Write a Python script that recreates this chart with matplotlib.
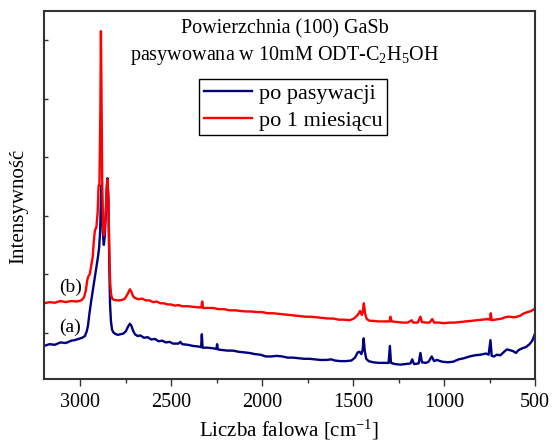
import numpy as np
import matplotlib
matplotlib.use("Agg")
import matplotlib.pyplot as plt
from matplotlib.ticker import MultipleLocator, NullFormatter

# ===== dane =====
wn_a = [3200, 3170, 3140, 3110, 3080, 3050, 3030, 3010, 2990, 2975, 2965, 2958,
        2950, 2940, 2930, 2920, 2911, 2903, 2897, 2891, 2887, 2884, 2880, 2875,
        2871, 2866, 2860, 2855, 2851, 2846, 2841, 2837, 2832, 2826, 2818, 2810,
        2795, 2780, 2765, 2750, 2738, 2728, 2720, 2710, 2700, 2685, 2670, 2650,
        2630, 2610, 2590, 2570, 2550, 2530, 2510, 2490, 2460, 2450, 2440, 2410,
        2380, 2350, 2336, 2332, 2328, 2300, 2270, 2252, 2248, 2244, 2220, 2190,
        2160, 2130, 2100, 2070, 2040, 2010, 1980, 1950, 1920, 1890, 1860, 1830,
        1800, 1770, 1740, 1710, 1680, 1650, 1620, 1600, 1570, 1540, 1510, 1490,
        1475, 1465, 1455, 1448, 1442, 1436, 1428, 1415, 1390, 1360, 1330, 1305,
        1298, 1292, 1270, 1240, 1210, 1185, 1175, 1165, 1140, 1130, 1122, 1100,
        1085, 1068, 1055, 1040, 1010, 980, 950, 920, 890, 860, 830, 800, 770,
        755, 745, 738, 725, 710, 690, 670, 655, 640, 620, 605, 590, 570, 550,
        530, 515, 500]
int_a = [-0.23, -0.20, -0.21, -0.17, -0.18, -0.14, -0.13, -0.11, -0.09, -0.06, 0.02, 0.12,
         0.33, 0.55, 0.75, 0.95, 1.13, 1.30, 1.45, 1.75, 2.30, 2.52, 2.10, 1.65,
         1.50, 1.65, 2.05, 2.45, 2.64, 2.30, 1.20, 0.50, 0.20, 0.05, 0.00, -0.02,
         -0.04, -0.03, -0.02, 0.02, 0.10, 0.15, 0.12, 0.03, -0.03, -0.06, -0.05, -0.09,
         -0.08, -0.12, -0.11, -0.15, -0.14, -0.17, -0.16, -0.19, -0.19, -0.16, -0.20, -0.21,
         -0.23, -0.24, -0.25, -0.03, -0.26, -0.26, -0.27, -0.28, -0.20, -0.29, -0.30, -0.31,
         -0.31, -0.33, -0.34, -0.35, -0.37, -0.38, -0.41, -0.41, -0.40, -0.41, -0.43, -0.43,
         -0.44, -0.45, -0.45, -0.46, -0.47, -0.47, -0.46, -0.48, -0.49, -0.49, -0.48, -0.43,
         -0.34, -0.33, -0.37, -0.30, -0.10, -0.32, -0.45, -0.49, -0.51, -0.52, -0.52, -0.52,
         -0.23, -0.52, -0.54, -0.55, -0.54, -0.53, -0.46, -0.54, -0.53, -0.35, -0.51, -0.52,
         -0.50, -0.41, -0.49, -0.47, -0.50, -0.51, -0.50, -0.46, -0.44, -0.41, -0.39, -0.38, -0.36,
         -0.38, -0.13, -0.40, -0.41, -0.38, -0.39, -0.33, -0.29, -0.30, -0.32, -0.35, -0.30, -0.27, -0.25,
         -0.20, -0.14, -0.02]

wn_b = [3200, 3170, 3140, 3110, 3080, 3050, 3020, 2995, 2980, 2970, 2962, 2955,
        2948, 2940, 2932, 2925, 2920, 2912, 2905, 2900, 2895, 2890, 2887, 2884,
        2880, 2875, 2870, 2865, 2860, 2855, 2851, 2846, 2841, 2836, 2831, 2825,
        2815, 2800, 2785, 2770, 2755, 2740, 2728, 2720, 2710, 2700, 2680, 2660,
        2640, 2620, 2600, 2580, 2560, 2540, 2520, 2500, 2480, 2460, 2440, 2410,
        2380, 2350, 2335, 2330, 2325, 2300, 2270, 2240, 2210, 2180, 2150, 2120,
        2090, 2060, 2030, 2000, 1970, 1940, 1910, 1880, 1850, 1820, 1790, 1760,
        1730, 1700, 1670, 1640, 1610, 1580, 1550, 1520, 1495, 1475, 1462, 1452,
        1447, 1441, 1435, 1425, 1410, 1390, 1360, 1330, 1300, 1295, 1288, 1260,
        1230, 1200, 1178, 1170, 1145, 1130, 1122, 1100, 1080, 1065, 1055, 1030,
        1000, 970, 940, 910, 880, 850, 820, 790, 760, 748, 743, 738, 720, 700,
        680, 665, 650, 635, 620, 600, 580, 560, 540, 520, 500]
int_b = [0.50, 0.52, 0.51, 0.54, 0.52, 0.54, 0.53, 0.55, 0.60, 0.72, 0.90, 0.97,
         1.00, 1.15, 1.30, 1.60, 1.75, 1.80, 2.05, 2.50, 2.55, 3.80, 5.16, 4.20,
         2.60, 1.80, 1.66, 1.80, 2.10, 2.50, 2.62, 2.30, 1.40, 0.85, 0.65, 0.58,
         0.56, 0.55, 0.55, 0.56, 0.58, 0.66, 0.74, 0.70, 0.62, 0.59, 0.57, 0.58,
         0.55, 0.55, 0.52, 0.53, 0.50, 0.50, 0.48, 0.48, 0.46, 0.47, 0.45, 0.45,
         0.44, 0.43, 0.43, 0.53, 0.42, 0.42, 0.42, 0.40, 0.40, 0.38, 0.38, 0.37,
         0.36, 0.36, 0.35, 0.35, 0.33, 0.33, 0.32, 0.31, 0.30, 0.29, 0.28, 0.27,
         0.27, 0.26, 0.25, 0.24, 0.24, 0.22, 0.22, 0.21, 0.24, 0.30, 0.37, 0.30,
         0.36, 0.50, 0.33, 0.23, 0.20, 0.20, 0.19, 0.19, 0.19, 0.27, 0.19, 0.18,
         0.17, 0.17, 0.21, 0.17, 0.17, 0.27, 0.18, 0.17, 0.17, 0.23, 0.17, 0.17,
         0.16, 0.17, 0.17, 0.18, 0.19, 0.20, 0.21, 0.22, 0.23, 0.22, 0.33, 0.21, 0.22, 0.23,
         0.24, 0.26, 0.27, 0.27, 0.26, 0.27, 0.29, 0.33, 0.35, 0.37, 0.41]

labels = ["po pasywacji", "po 1 miesiącu"]
xticks = [3000, 2500, 2000, 1500, 1000, 500]

# ===== styl =====
plt.rcParams["font.family"] = ["Liberation Serif", "DejaVu Serif"]
plt.rcParams["mathtext.fontset"] = "custom"
plt.rcParams["mathtext.rm"] = "Liberation Serif"
plt.rcParams["mathtext.default"] = "regular"

fig = plt.figure(figsize=(5.52, 4.41), dpi=100)
ax = fig.add_axes([44 / 552, 62 / 441, 491 / 552, 368 / 441])

ax.plot(wn_a, int_a, color="#000080", lw=1.7, label=labels[0])
ax.plot(wn_b, int_b, color="#ff0000", lw=1.7, label=labels[1])

ax.set_xlim(3200, 500)
ax.set_ylim(-0.796, 5.505)
ax.set_xticks(xticks)
ax.xaxis.set_minor_locator(MultipleLocator(250))
ax.set_yticks([0, 1, 2, 3, 4, 5])
ax.yaxis.set_major_formatter(NullFormatter())

ax.tick_params(axis="x", which="major", direction="out", length=5, width=1,
               labelsize=14.5, pad=5, colors="#333333", labelcolor="black")
ax.tick_params(axis="x", which="minor", direction="out", length=3, width=1,
               colors="#333333")
ax.tick_params(axis="y", which="major", direction="in", length=3, width=1,
               colors="#333333")
for s in ax.spines.values():
    s.set_linewidth(1.5)
    s.set_color("#333333")

ax.set_xlabel("Liczba falowa [cm$^{-1}$]", fontsize=15)
ax.xaxis.set_label_coords(0.5, -0.105)
ax.set_ylabel("Intensywność", fontsize=15)
ax.yaxis.set_label_coords(-0.032, 0.47)

ax.text(0.491, 0.951, "Powierzchnia (100) GaSb", transform=ax.transAxes,
        ha="center", va="center", fontsize=14.5)
ax.text(0.491, 0.880, "pasywowana w 10mM ODT-C$_2$H$_5$OH", transform=ax.transAxes,
        ha="center", va="center", fontsize=14.5)
ax.text(0.031, 0.25, "(b)", transform=ax.transAxes, ha="left", va="center", fontsize=14)
ax.text(0.031, 0.141, "(a)", transform=ax.transAxes, ha="left", va="center", fontsize=14)

leg = ax.legend(loc="upper left", bbox_to_anchor=(0.316, 0.815), borderaxespad=0,
                fontsize=16, fancybox=False, edgecolor="black", framealpha=1,
                handlelength=2.2, handletextpad=0.3, borderpad=0.2, labelspacing=0.28)
leg.get_frame().set_linewidth(1.0)

plt.savefig("out.png", dpi=100)
